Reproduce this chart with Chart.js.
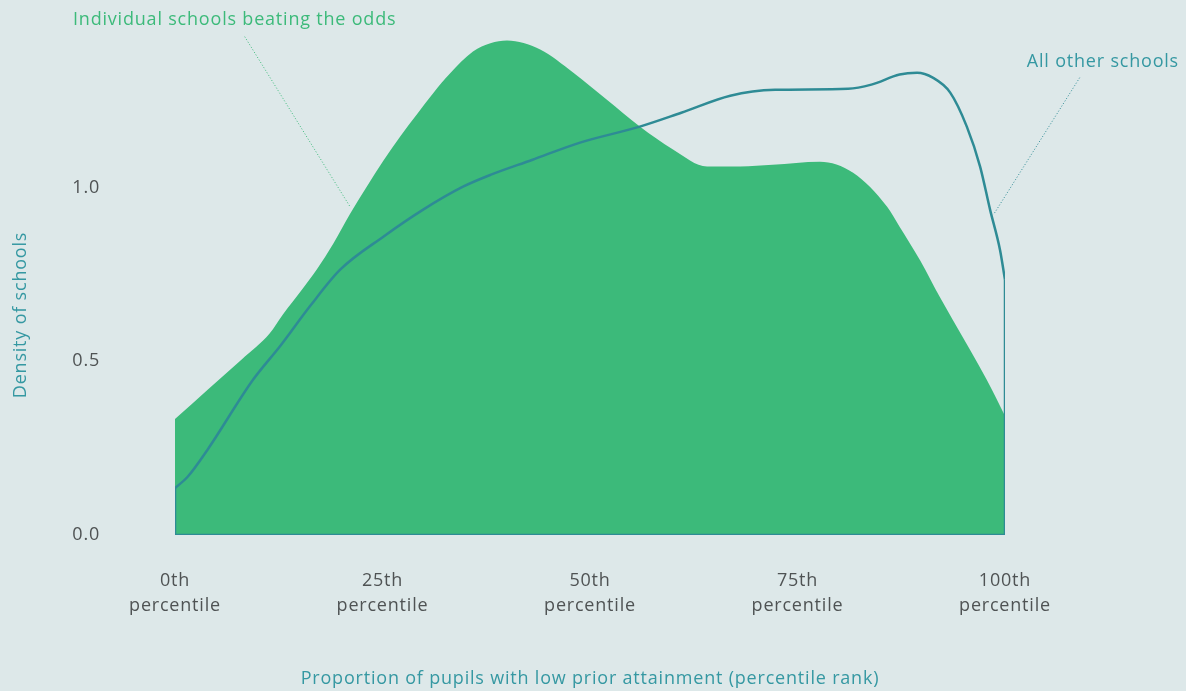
<!DOCTYPE html>
<html>
<head>
<meta charset="utf-8">
<script src="https://cdn.jsdelivr.net/npm/chart.js@4/dist/chart.umd.min.js"></script>
<style>
  html, body { margin: 0; padding: 0; background: #dde8e9; }
  #wrap { width: 1186px; height: 691px; position: relative; }
</style>
</head>
<body>
<div id="wrap"><canvas id="c" width="1186" height="691"></canvas></div>
<script>
// ---- data ----
const xTickValues = [0, 25, 50, 75, 100];
const xTickLabels = [['0th', 'percentile'], ['25th', 'percentile'], ['50th', 'percentile'], ['75th', 'percentile'], ['100th', 'percentile']];
const yTickValues = [0, 0.5, 1.0];

const beatingX = [0, 4, 8, 11.4, 13.0, 15.4, 17.1, 19.1, 21.1, 23.1, 25.1, 27.2, 29.2, 31.2, 33.1, 35.9, 38, 40, 44, 48, 52, 56, 60, 64.1, 68.1, 72, 77.7, 81.7, 85.8, 87.3, 89.8, 92.2, 93.7, 97.8, 100];
const beatingY = [0.334, 0.42, 0.505, 0.58, 0.635, 0.71, 0.765, 0.84, 0.925, 1.003, 1.078, 1.15, 1.213, 1.275, 1.328, 1.392, 1.416, 1.424, 1.398, 1.331, 1.254, 1.176, 1.110, 1.061, 1.061, 1.066, 1.075, 1.043, 0.945, 0.888, 0.79, 0.683, 0.62, 0.447, 0.343];

const otherX = [0, 1.5, 3.9, 9.4, 12.7, 16.3, 19.9, 25.1, 29.9, 34.7, 38, 43, 48.8, 56, 61, 66.9, 72.3, 81.1, 83.9, 87.3, 89.4, 91.3, 93.4, 95.4, 97.0, 98.2, 99.4, 100];
const otherY = [0.135, 0.167, 0.245, 0.447, 0.545, 0.66, 0.764, 0.859, 0.937, 1.003, 1.037, 1.08, 1.130, 1.176, 1.216, 1.265, 1.282, 1.285, 1.297, 1.326, 1.331, 1.317, 1.274, 1.176, 1.061, 0.937, 0.821, 0.735];

// closing outline of the "all other schools" density (left edge, baseline, right edge)
const outlineX = [0, 0, 100, 100];
const outlineY = [0.135, 0, 0, 0.735];

const seriesNames = ['Individual schools beating the odds', 'All other schools'];
const xTitle = 'Proportion of pupils with low prior attainment (percentile rank)';
const yTitle = 'Density of schools';

// label leaders in data units
const greenLeader = [[8.4, 1.435], [21.1, 0.945]];
const tealLeader = [[109.0, 1.317], [98.6, 0.922]];

// ---- styles ----
const GREEN = '#3cba7a';
const TEAL = '#2e8b95';
const TEAL_TEXT = '#3598a2';
const TICK = '#4f5354';
const FONT = "'Open Sans', sans-serif";
const FS = 18;

const toPts = (xs, ys) => xs.map((x, i) => ({ x, y: ys[i] }));

const annotPlugin = {
  id: 'annot',
  beforeDraw(chart) {
    chart.ctx.letterSpacing = '0.8px';
  },
  afterDatasetsDraw(chart) {
    const { ctx, scales: { x, y }, chartArea } = chart;
    ctx.save();
    const drawLeader = (pts, color) => {
      ctx.strokeStyle = color;
      ctx.lineWidth = 1;
      ctx.setLineDash([1, 2]);
      ctx.beginPath();
      ctx.moveTo(x.getPixelForValue(pts[0][0]), y.getPixelForValue(pts[0][1]));
      ctx.lineTo(x.getPixelForValue(pts[1][0]), y.getPixelForValue(pts[1][1]));
      ctx.stroke();
    };
    drawLeader(greenLeader, GREEN);
    drawLeader(tealLeader, TEAL);
    ctx.setLineDash([]);
    ctx.font = FS + 'px ' + FONT;
    ctx.textBaseline = 'middle';
    ctx.fillStyle = GREEN;
    ctx.textAlign = 'left';
    ctx.fillText(seriesNames[0], 73, 20);
    ctx.fillStyle = TEAL_TEXT;
    ctx.textAlign = 'right';
    ctx.fillText(seriesNames[1], 1179, 62);
    ctx.textAlign = 'center';
    ctx.fillText(xTitle, (chartArea.left + chartArea.right) / 2, 679);
    ctx.translate(21, 315);
    ctx.rotate(-Math.PI / 2);
    ctx.fillText(yTitle, 0, 0);
    ctx.restore();
  }
};

new Chart(document.getElementById('c'), {
  type: 'line',
  data: {
    datasets: [
      { label: seriesNames[1], data: toPts(otherX, otherY), borderColor: TEAL, borderWidth: 2.5, pointRadius: 0, fill: false, cubicInterpolationMode: 'monotone', order: 0 },
      { label: seriesNames[1] + ' outline', data: toPts(outlineX, outlineY), borderColor: TEAL, borderWidth: 2.5, pointRadius: 0, fill: false, tension: 0, order: 1 },
      { label: seriesNames[0], data: toPts(beatingX, beatingY), borderWidth: 0, borderColor: GREEN, backgroundColor: GREEN, pointRadius: 0, fill: 'origin', cubicInterpolationMode: 'monotone', order: 2 }
    ]
  },
  options: {
    responsive: false,
    animation: false,
    layout: { padding: { left: 60, right: 181, top: 28, bottom: 0 } },
    plugins: { legend: { display: false }, tooltip: { enabled: false } },
    scales: {
      x: {
        type: 'linear', min: 0, max: 100,
        grid: { display: false, drawTicks: false },
        border: { display: false },
        afterBuildTicks: (s) => { s.ticks = xTickValues.map(v => ({ value: v })); },
        afterFit: (s) => { s.height = 156; s.paddingLeft = 0; s.paddingRight = 0; },
        ticks: { padding: 33, color: TICK, font: { family: FONT, size: FS, lineHeight: 1.4 }, maxRotation: 0, autoSkip: false, callback: (v) => xTickLabels[xTickValues.indexOf(v)] }
      },
      y: {
        type: 'linear', min: 0, max: 1.46,
        grid: { display: false, drawTicks: false },
        border: { display: false },
        afterBuildTicks: (s) => { s.ticks = yTickValues.map(v => ({ value: v })); },
        afterFit: (s) => { s.width = 115; s.paddingTop = 0; s.paddingBottom = 0; },
        ticks: { padding: 75, color: TICK, font: { family: FONT, size: FS }, callback: (v) => v.toFixed(1) }
      }
    }
  },
  plugins: [annotPlugin]
});
</script>
</body>
</html>
